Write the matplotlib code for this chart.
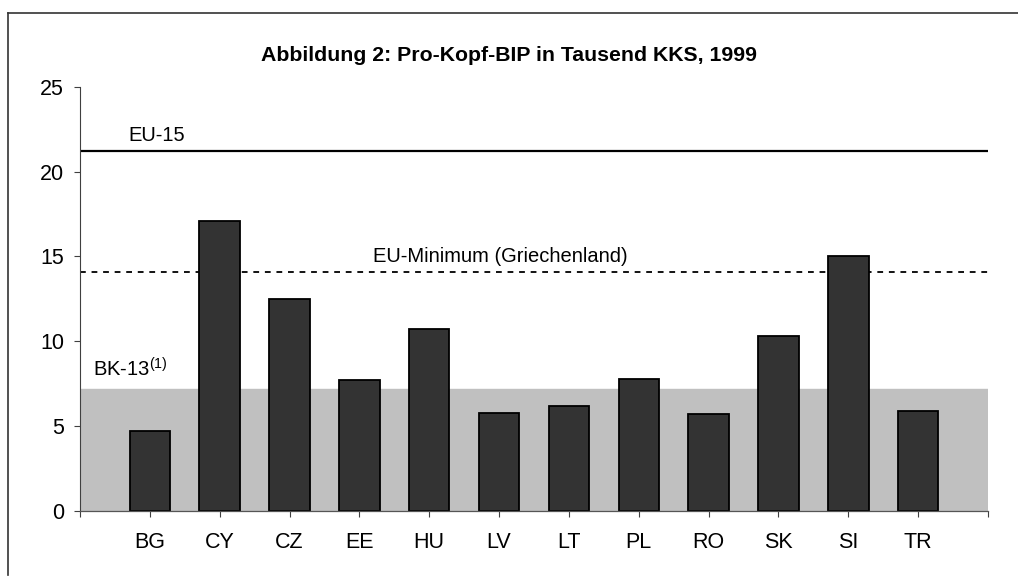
import matplotlib.pyplot as plt
from matplotlib.lines import Line2D

plt.rcParams["font.family"] = ["Liberation Sans", "DejaVu Sans"]
plt.rcParams["mathtext.fontset"] = "custom"
plt.rcParams["mathtext.rm"] = "Liberation Sans"

# data (Tausend KKS, 1999)
countries = ["BG", "CY", "CZ", "EE", "HU", "LV", "LT", "PL", "RO", "SK", "SI", "TR"]
gdp = [4.7, 17.1, 12.5, 7.7, 10.7, 5.8, 6.2, 7.8, 5.7, 10.3, 15.0, 5.9]
eu15 = 21.2
eu_min = 14.1
bk13 = 7.2

W, H = 1018, 583
fig = plt.figure(figsize=(W / 100, H / 100), dpi=100)
ax = fig.add_axes([80 / W, 1 - 511 / H, (988 - 80) / W, (511 - 86.7) / H])

# outer frame (only left and top edges are visible)
fig.add_artist(Line2D([8 / W, 8 / W], [1 - 575 / H, 1 - 13 / H], color="#333333", lw=1.2))
fig.add_artist(Line2D([8 / W, 1.0], [1 - 13 / H, 1 - 13 / H], color="#333333", lw=1.2))

x = list(range(1, len(countries) + 1))

ax.axhspan(0, bk13, color="#c0c0c0", zorder=0)
ax.bar(x, gdp, width=0.58, color="#333333", edgecolor="black", linewidth=1.3, zorder=3)
ax.axhline(eu15, color="black", lw=1.6, zorder=2)
ax.axhline(eu_min, color="black", lw=1.3, dashes=(3.2, 3.2), zorder=2)

ax.text(0.69, eu15 + 0.6, "EU-15", fontsize=14.5, va="baseline")
ax.text(4.19, eu_min + 0.6, "EU-Minimum (Griechenland)", fontsize=14.5, va="baseline")
ax.text(0.18, bk13 + 0.7, r"BK-13$\mathregular{^{(1)}}$", fontsize=14.5, va="baseline")

ax.set_xlim(0, 13)
ax.set_ylim(0, 25)
ax.set_yticks([0, 5, 10, 15, 20, 25])
ax.set_xticks(range(0, 14))
ax.set_xticklabels([""] + countries + [""])

ax.tick_params(axis="x", length=4, width=0.8, pad=11, labelsize=15.5, color="#404040")
ax.tick_params(axis="y", length=4.5, width=0.8, pad=7, labelsize=15.5, color="#404040")

for side in ["top", "right"]:
    ax.spines[side].set_visible(False)
ax.spines["left"].set_color("#404040")
ax.spines["bottom"].set_color("#555555")
ax.spines["left"].set_linewidth(0.8)
ax.spines["bottom"].set_linewidth(0.9)
ax.spines["bottom"].set_zorder(4)

fig.text(0.5, 1 - 61 / H, "Abbildung 2: Pro-Kopf-BIP in Tausend KKS, 1999",
         ha="center", va="baseline", fontsize=15.3, fontweight="bold")

fig.savefig("out.png", dpi=100)
